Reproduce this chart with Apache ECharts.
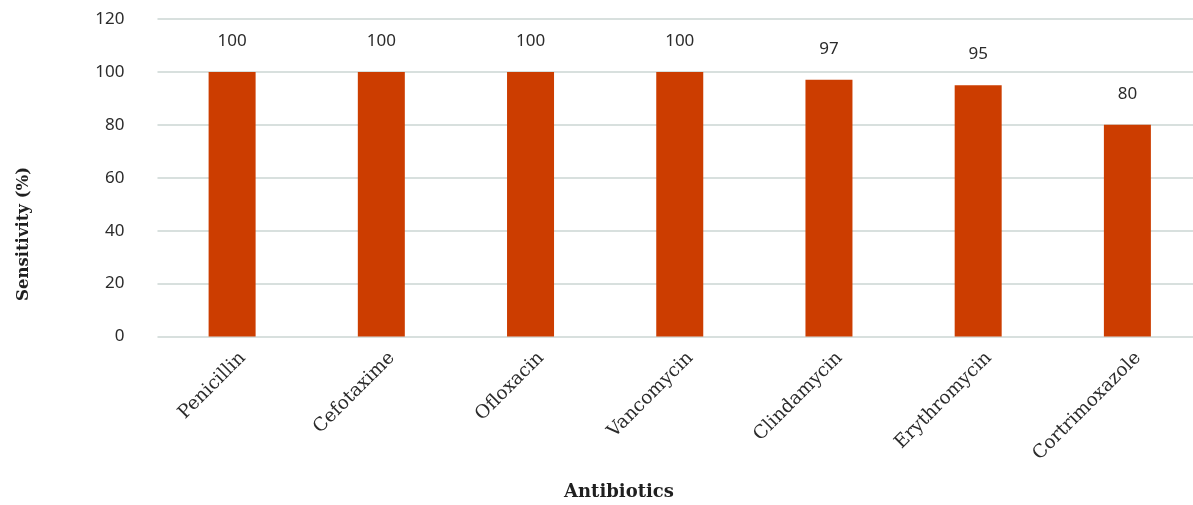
<!DOCTYPE html>
<html>
<head>
<meta charset="utf-8">
<script src="https://cdn.jsdelivr.net/npm/echarts@6/dist/echarts.min.js"></script>
<style>
  html, body { margin: 0; padding: 0; background: #fff; overflow: hidden; }
  #chart { width: 1202px; height: 505px; }
</style>
</head>
<body>
<div id="chart"></div>
<script>
// Antibiotic sensitivity, percent of isolates
const antibiotics = ['Penicillin', 'Cefotaxime', 'Ofloxacin', 'Vancomycin', 'Clindamycin', 'Erythromycin', 'Cortrimoxazole'];
const sensitivity = [100, 100, 100, 100, 97, 95, 80];
const yTicks = [0, 20, 40, 60, 80, 100, 120];

const textColor = '#2b2b2b';
const chart = echarts.init(document.getElementById('chart'), null, { renderer: 'canvas' });

chart.setOption({
  animation: false,
  backgroundColor: '#ffffff',
  grid: { left: 157.5, top: 19, right: 0, bottom: 168.5, containLabel: false },
  xAxis: {
    type: 'category',
    data: antibiotics,
    axisLine: { show: false },
    axisTick: { show: false },
    axisLabel: {
      rotate: 45,
      margin: 8,
      interval: 0,
      verticalAlign: 'top',
      lineHeight: 30,
      color: textColor,
      fontFamily: 'DejaVu Serif',
      fontSize: 18.5
    }
  },
  yAxis: {
    type: 'value',
    min: yTicks[0],
    max: yTicks[yTicks.length - 1],
    interval: 20,
    axisLine: { show: false },
    axisTick: { show: false },
    splitLine: { lineStyle: { color: '#d8e0de', width: 2 } },
    axisLabel: {
      margin: 33,
      color: textColor,
      fontFamily: 'Noto Sans',
      fontSize: 17
    }
  },
  series: [{
    type: 'bar',
    data: sensitivity,
    barWidth: 47,
    itemStyle: { color: '#cc3d00' },
    label: {
      show: true,
      position: 'top',
      distance: 22,
      color: textColor,
      fontFamily: 'Noto Sans',
      fontSize: 17
    }
  }],
  graphic: [
    {
      type: 'text',
      x: 619, y: 492,
      style: {
        text: 'Antibiotics',
        x: 0, y: 0,
        textAlign: 'center',
        textVerticalAlign: 'middle',
        fill: '#1f1f1f',
        font: 'bold 18px "DejaVu Serif"'
      }
    },
    {
      type: 'text',
      x: 24, y: 234,
      rotation: Math.PI / 2,
      style: {
        text: 'Sensitivity (%)',
        x: 0, y: 0,
        textAlign: 'center',
        textVerticalAlign: 'middle',
        fill: '#1f1f1f',
        font: 'bold 16.5px "DejaVu Serif"'
      }
    }
  ]
});
</script>
</body>
</html>
